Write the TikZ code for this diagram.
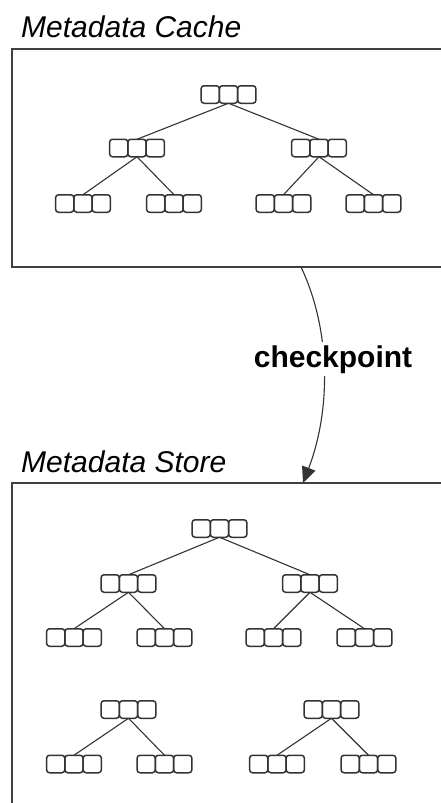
\documentclass[tikz,border=0pt]{standalone}
\usepackage{fontspec}
\setmainfont{Liberation Sans}
\usetikzlibrary{arrows.meta,positioning}
\tikzset{
  cell/.style={draw=black!80,line width=1.5pt,rounded corners=3pt,
    minimum width=18.3pt,minimum height=17.5pt,inner sep=0pt,outer sep=0pt},
  link/.style={draw=black!80,line width=1.1pt},
  store/.style={draw=black!75,line width=1.7pt,inner sep=0pt,outer sep=0pt,
    anchor=north west,minimum width=460pt},
  title/.style={anchor=base west,inner sep=0pt,
    font=\fontsize{30}{35}\selectfont\itshape},
}
% three cells side by side, middle one named #1
\newcommand{\trio}[2]{%
  \node[cell] (#1) at (#2) {};
  \node[cell,left=0pt of #1] (#1-a) {};
  \node[cell,right=0pt of #1] (#1-c) {};
}
\begin{document}
\begin{tikzpicture}[x=1pt,y=-1pt]
\useasboundingbox (0,0) rectangle (441,803);
\clip (0,0) rectangle (441,803);
% cache
\node[store,minimum height=218pt] (cache) at (12,49) {};
\node[title] (cachetitle) at (21,37) {Metadata Cache};
\trio{c0}{228.5,94.5}
\trio{c1}{137,148}
\trio{c2}{319,148}
\trio{c3}{83,203.5}
\trio{c4}{174,203.5}
\trio{c5}{283.5,203.5}
\trio{c6}{373.5,203.5}
\draw[link] (c0.south) -- (c1.north);
\draw[link] (c0.south) -- (c2.north);
\draw[link] (c1.south) -- (c3.north);
\draw[link] (c1.south) -- (c4.north);
\draw[link] (c2.south) -- (c5.north);
\draw[link] (c2.south) -- (c6.north);
% store
\node[store,minimum height=360pt] (store) at (12,483) {};
\node[title] (storetitle) at (21,472) {Metadata Store};
\trio{s0}{219.5,528.5}
\trio{s1}{128.5,583.5}
\trio{s2}{310,583.5}
\trio{s3}{74,637.5}
\trio{s4}{164.5,637.5}
\trio{s5}{273.5,637.5}
\trio{s6}{364.5,637.5}
\draw[link] (s0.south) -- (s1.north);
\draw[link] (s0.south) -- (s2.north);
\draw[link] (s1.south) -- (s3.north);
\draw[link] (s1.south) -- (s4.north);
\draw[link] (s2.south) -- (s5.north);
\draw[link] (s2.south) -- (s6.north);
\trio{t1}{128.5,709.5}
\trio{t2}{331.5,709.5}
\trio{t3}{74,764}
\trio{t4}{164.5,764}
\trio{t5}{277,764}
\trio{t6}{368.5,764}
\draw[link] (t1.south) -- (t3.north);
\draw[link] (t1.south) -- (t4.north);
\draw[link] (t2.south) -- (t5.north);
\draw[link] (t2.south) -- (t6.north);
% checkpoint
\draw[link,-{Triangle[length=16pt,width=14pt]}] (301,0 |- cache.south)
  .. controls (331,330) and (331,410) .. (303,0 |- store.north);
\node[fill=white,inner sep=3pt,anchor=base,
  font=\fontsize{30}{35}\selectfont\bfseries] (cplabel) at (333,367) {checkpoint};
\end{tikzpicture}
\end{document}
